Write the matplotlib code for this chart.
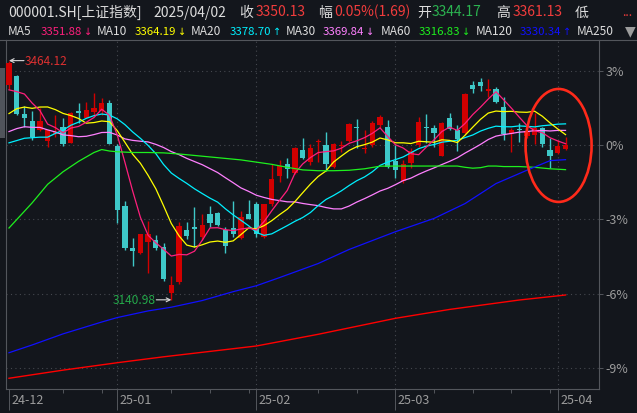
import numpy as np
import datetime as dt
import matplotlib
matplotlib.use("Agg")
import matplotlib.pyplot as plt
from matplotlib.patches import Ellipse, Rectangle
from matplotlib.lines import Line2D
from matplotlib import transforms as mtrans

# ---------------- data ----------------
dates = (["2024-12-%02d" % d for d in [12, 13, 16, 17, 18, 19, 20, 23, 24, 25, 26, 27, 30, 31]] +
         ["2025-01-%02d" % d for d in [2, 3, 6, 7, 8, 9, 10, 13, 14, 15, 16, 17, 20, 21, 22, 23, 24, 27]] +
         ["2025-02-%02d" % d for d in [5, 6, 7, 10, 11, 12, 13, 14, 17, 18, 19, 20, 21, 24, 25, 26, 27, 28]] +
         ["2025-03-%02d" % d for d in [3, 4, 5, 6, 7, 10, 11, 12, 13, 14, 17, 18, 19, 20, 21, 24, 25, 26, 27, 28, 31]] +
         ["2025-04-%02d" % d for d in [1, 2]])

open_ = [3431.0, 3443.0, 3392.0, 3382.5, 3370.4, 3355.9, 3365.5, 3374.4, 3353.2, 3396.0, 3386.6, 3395.1, 3396.0, 3407.3,
         3349.2, 3267.7, 3211.4, 3203.8, 3219.5, 3221.8, 3212.7, 3149.8, 3165.5, 3235.3, 3239.8, 3226.3, 3257.0, 3258.5,
         3235.3, 3238.3, 3224.2, 3256.5,
         3270.4, 3226.3, 3270.1, 3308.3, 3324.0, 3311.9, 3343.4, 3327.6, 3354.6, 3350.1, 3320.8, 3349.2, 3355.9, 3375.0,
         3344.7, 3350.0, 3377.2, 3374.9,
         3328.5, 3301.6, 3325.4, 3350.1, 3374.0, 3372.8, 3335.7, 3386.2, 3370.4, 3366.0, 3431.2, 3435.6, 3423.5, 3425.4,
         3401.9, 3365.0, 3371.5, 3362.0, 3363.6, 3372.7, 3343.4,
         3339.7, 3344.17]
high = [3464.12, 3444.5, 3402.8, 3396.0, 3400.0, 3370.5, 3390.7, 3386.6, 3394.5, 3407.3, 3408.6, 3420.4, 3413.6, 3411.0,
        3351.0, 3274.9, 3224.5, 3230.5, 3247.5, 3228.6, 3218.0, 3173.6, 3246.5, 3246.5, 3266.8, 3256.9, 3268.1, 3260.0,
        3239.8, 3274.0, 3261.0, 3275.8,
        3273.0, 3271.0, 3324.5, 3329.9, 3332.6, 3348.0, 3360.0, 3351.5, 3358.2, 3367.3, 3353.0, 3355.5, 3380.5, 3385.3,
        3370.4, 3382.0, 3390.0, 3383.9,
        3350.1, 3329.9, 3345.7, 3388.4, 3392.0, 3377.1, 3381.0, 3393.0, 3377.1, 3421.0, 3436.6, 3440.2, 3439.3, 3428.0,
        3415.4, 3372.7, 3380.3, 3376.0, 3393.0, 3374.9, 3360.0,
        3356.9, 3361.13]
low = [3425.8, 3390.5, 3374.8, 3357.5, 3369.0, 3347.8, 3361.0, 3349.0, 3352.5, 3379.8, 3386.0, 3390.7, 3391.0, 3351.0,
       3244.8, 3208.3, 3187.0, 3202.5, 3176.8, 3208.3, 3167.0, 3140.98, 3162.4, 3222.8, 3212.7, 3221.8, 3240.0, 3241.0,
       3204.6, 3226.0, 3223.5, 3249.5,
       3226.0, 3224.0, 3268.0, 3300.6, 3305.1, 3311.0, 3331.0, 3323.1, 3327.6, 3315.0, 3319.0, 3341.1, 3354.0, 3345.7,
       3338.9, 3348.0, 3372.7, 3319.5,
       3306.0, 3299.0, 3318.7, 3348.0, 3353.2, 3347.8, 3335.0, 3370.0, 3342.4, 3365.0, 3420.8, 3423.5, 3415.4, 3406.5,
       3356.9, 3341.1, 3354.6, 3360.0, 3351.5, 3347.8, 3318.7,
       3338.5, 3343.0]
close = [3461.50, 3391.88, 3386.33, 3361.49, 3382.21, 3370.03, 3368.07, 3351.26, 3393.53, 3393.35, 3398.08, 3400.14,
         3407.33, 3351.76,
         3262.56, 3211.43, 3206.92, 3229.64, 3230.17, 3211.39, 3168.52, 3160.76, 3240.94, 3227.12, 3236.03, 3241.82,
         3244.38, 3242.62, 3213.62, 3230.16, 3252.63, 3250.60,
         3229.49, 3270.66, 3303.67, 3322.17, 3318.06, 3346.39, 3332.48, 3346.72, 3355.83, 3324.49, 3351.54, 3350.78,
         3379.11, 3373.03, 3346.04, 3380.21, 3388.06, 3320.90,
         3316.93, 3324.21, 3341.96, 3381.10, 3372.55, 3366.16, 3379.83, 3371.92, 3358.73, 3419.56, 3426.43, 3429.76,
         3426.43, 3408.49, 3364.83, 3370.03, 3369.98, 3368.70, 3373.75, 3351.31, 3335.75,
         3348.44, 3350.13]

# closes of the 29 sessions before the first visible one (feed MA5..MA30)
hist_close = [3272.01, 3310.21, 3386.99, 3383.81, 3470.07, 3452.30, 3470.66, 3421.97, 3439.28, 3379.84, 3330.73,
              3323.85, 3346.01, 3367.99, 3370.40, 3267.19, 3263.76, 3259.76, 3309.78, 3295.70, 3326.46,
              3363.98, 3378.81, 3364.65, 3368.86, 3404.08, 3402.53, 3422.66, 3432.49]

# long moving averages (candle index, value)
ma60_idx = [0, 3, 5, 7, 9, 11, 12, 13, 14, 16, 18, 20, 22, 24, 26, 28, 30, 32, 34, 36, 38, 40, 42, 44, 46, 48,
            50, 52, 54, 56, 58, 59, 60, 61, 62, 63, 64, 66, 68, 70, 72]
ma60_val = [3238, 3272, 3297, 3314, 3328, 3340, 3344, 3342, 3341, 3340, 3340, 3339.5, 3338, 3336, 3334, 3332,
            3330, 3327, 3324, 3320, 3316.5, 3315.4, 3315.4, 3316, 3318, 3321.5,
            3321.7, 3321.7, 3321.7, 3321.7, 3321.7, 3320, 3318.8, 3319.5, 3321.7, 3321.7, 3321, 3321, 3320, 3318,
            3316.83]
ma120_idx = [0, 3, 7, 12, 14, 18, 21, 25, 29, 32, 35, 40, 44, 50, 55, 59, 63, 67, 70, 72]
ma120_val = [3069.5, 3080, 3095, 3111, 3117, 3126, 3131, 3140, 3152, 3160, 3171, 3190, 3209, 3233, 3251, 3271,
             3298, 3316, 3329, 3330.34]
ma250_idx = [0, 7, 14, 20, 32, 40, 50, 57, 66, 72]
ma250_val = [3035, 3046, 3056, 3064, 3078.6, 3094.4, 3116, 3128, 3140.7, 3147.5]

pct_ticks = [3, 0, -3, -6, -9]
pct_labels = ["3%", "0%", "-3%", "-6%", "-9%"]

# ---------------- style ----------------
W, H = 637, 413
BG = "#13161c"
GRID = "#45484f"
AXC = "#53565c"
TXT = "#dcdcdc"
GRAY = "#9c9c9c"
RED_T = "#f03c3c"
GREEN_T = "#2bb350"
UP = "#d10000"
DN = "#3ec8c8"
C_MA5, C_MA10, C_MA20, C_MA30 = "#ff1f7c", "#ffff00", "#00f0ff", "#ff80ff"
C_MA60, C_MA120, C_MA250 = "#1ef01e", "#1010ff", "#ff0000"
FONT = ["Noto Sans CJK SC", "DejaVu Sans"]
plt.rcParams["font.family"] = FONT

fig = plt.figure(figsize=(W / 100, H / 100), dpi=100, facecolor=BG)
L, R, T, B = 5.5, 599.0, 40.0, 389.0
ax = fig.add_axes([L / W, 1 - B / H, (R - L) / W, (B - T) / H], facecolor=BG)

n = len(close)
x = np.arange(n)
o = np.array(open_); h = np.array(high); lo = np.array(low); c = np.array(close)
base = c[-1]
ax.set_xlim(-0.45, 76.33)
ax.set_ylim(base * (1 - 0.09839), base * (1 + 0.04234))

# grid
for p in pct_ticks:
    ax.axhline(base * (1 + p / 100), color=GRID, lw=0.8, ls=(0, (1, 3)), zorder=0)
d_objs = [dt.date.fromisoformat(s) for s in dates]
month_idx = [0] + [i for i in range(1, n) if d_objs[i].month != d_objs[i - 1].month]
month_lab = [d_objs[i].strftime("%y-%m") for i in month_idx]
for i in month_idx[1:]:
    ax.axvline(i, color=GRID, lw=0.8, ls=(0, (1, 3)), zorder=0)

# candles
up = c >= o
cols = np.where(up, UP, DN)
ax.vlines(x, lo, h, colors=cols, lw=1.0, zorder=2)
bh = np.maximum(np.abs(c - o), 1.1)
ax.bar(x, bh, bottom=np.minimum(o, c), width=0.68, color=cols, edgecolor=cols, lw=0, zorder=3)

# moving averages
allc = np.array(hist_close + close)
off = len(hist_close)
def ma(k):
    return np.array([allc[off + i - k + 1: off + i + 1].mean() for i in range(n)])
for k, col in [(30, C_MA30), (20, C_MA20), (10, C_MA10), (5, C_MA5)]:
    ax.plot(x, ma(k), color=col, lw=0.9, zorder=4)
ax.plot(ma60_idx, ma60_val, color=C_MA60, lw=0.9, zorder=4)
ax.plot(ma120_idx, ma120_val, color=C_MA120, lw=0.9, zorder=4)
ax.plot(ma250_idx, ma250_val, color=C_MA250, lw=1.0, zorder=4)

# high / low annotations
ih = int(np.argmax(h)); il = int(np.argmin(lo))
aprops = dict(arrowstyle="->", color="#d8d8d8", lw=0.8, shrinkA=0, shrinkB=0, mutation_scale=7)
ax.annotate("", xy=(ih, h[ih]), xytext=(15, 0), textcoords="offset pixels", arrowprops=aprops, zorder=6)
ax.annotate(f"{h[ih]:.2f}", xy=(ih, h[ih]), xytext=(16, -4.5), textcoords="offset pixels",
            color="#dc3030", fontsize=8.6, ha="left", va="baseline", zorder=6)
ax.annotate("", xy=(il, lo[il]), xytext=(-15, 0), textcoords="offset pixels", arrowprops=aprops, zorder=6)
ax.annotate(f"{lo[il]:.2f}", xy=(il, lo[il]), xytext=(-15.5, -4.5), textcoords="offset pixels",
            color="#24a84a", fontsize=8.6, ha="right", va="baseline", zorder=6)

# highlight ellipse
ax.add_patch(Ellipse((71.1, base - 0.6), 8.54, 152.6, fill=False, ec="#ff2a1a", lw=1.9, zorder=7, clip_on=False))

# spines
for s in ["left", "right", "bottom", "top"]:
    ax.spines[s].set_color(AXC)
    ax.spines[s].set_linewidth(0.8)

# y axis (right, percent)
ax.yaxis.tick_right()
ax.set_yticks([base * (1 + p / 100) for p in pct_ticks])
ax.set_yticklabels(pct_labels)
ax.tick_params(axis="y", right=True, left=False, length=3, width=0.7, color=AXC, pad=1.5,
               labelsize=9, labelcolor=GRAY)

# x axis
mondays = [i for i in range(n) if d_objs[i].weekday() == 0 and i not in month_idx
           and not any(0 < i - m <= 4 for m in month_idx)]
ax.set_xticks(month_idx)
ax.set_xticklabels([])
ax.set_xticks(mondays, minor=True)
ax.tick_params(axis="x", which="major", length=15, width=0.7, color=AXC, direction="out")
ax.tick_params(axis="x", which="minor", length=3, width=0.7, color=AXC, direction="out")
blend = mtrans.blended_transform_factory(ax.transData, ax.transAxes)
lab_tr = mtrans.offset_copy(blend, fig=fig, x=2.5, y=-15, units="dots")
for i, lab in zip(month_idx, month_lab):
    ax.text(i, 0, lab, transform=lab_tr, color=GRAY, fontsize=9, ha="left", va="baseline", clip_on=False)

# ---------------- header ----------------
def ftext(px, py, s, color, size, ha="left", family=FONT):
    fig.text(px / W, 1 - py / H, s, color=color, fontsize=size, ha=ha, va="baseline", family=family)

r1 = 16.5
ftext(8, r1, "000001.SH[上证指数]", TXT, 10)
ftext(153, r1, "2025/04/02", TXT, 10)
ftext(239, r1, "收", TXT, 10)
ftext(256, r1, f"{close[-1]:.2f}", RED_T, 10)
ftext(318, r1, "幅", TXT, 10)
ftext(334, r1, "0.05%(1.69)", RED_T, 10)
ftext(417, r1, "开", TXT, 10)
ftext(432, r1, f"{open_[-1]:.2f}", GREEN_T, 10)
ftext(496, r1, "高", TXT, 10)
ftext(513, r1, f"{high[-1]:.2f}", RED_T, 10)
ftext(575, r1, "低", TXT, 10)
ftext(622, r1, "...", RED_T, 9)

r2 = 35
ma_hdr = [("MA5", 8, 41, "3351.88", "↓", 88.5, C_MA5),
          ("MA10", 97, 135, "3364.19", "↓", 182.5, C_MA10),
          ("MA20", 191, 230, "3378.70", "↑", 277.5, C_MA20),
          ("MA30", 286, 323, "3369.84", "↓", 370.5, C_MA30),
          ("MA60", 381, 419, "3316.83", "↓", 466.5, C_MA60),
          ("MA120", 476, 520, "3330.34", "↑", 567.5, C_MA120)]
for name, xn, xv, val, arr, xa, col in ma_hdr:
    ftext(xn, r2, name, TXT, 8.6)
    ftext(xv, r2, val, col, 8.2)
    ftext(xa, r2, arr, col, 7, ha="center", family=["DejaVu Sans"])
ftext(577, r2, "MA250", TXT, 8.6)
ftext(630, r2, "▼", GRAY, 10, ha="center", family=["DejaVu Sans"])

# separator line and left edge widgets
fig.add_artist(Line2D([R / W, 1.0], [1 - T / H, 1 - T / H], color=AXC, lw=0.8))
fig.add_artist(Line2D([0.0, L / W], [1 - T / H, 1 - T / H], color=AXC, lw=0.8))
fig.add_artist(Rectangle((0, 1 - 138 / H), 5 / W, 70 / H, transform=fig.transFigure,
                         facecolor="#50545b", edgecolor="none"))

fig.savefig("out.png", dpi=100, facecolor=BG)
